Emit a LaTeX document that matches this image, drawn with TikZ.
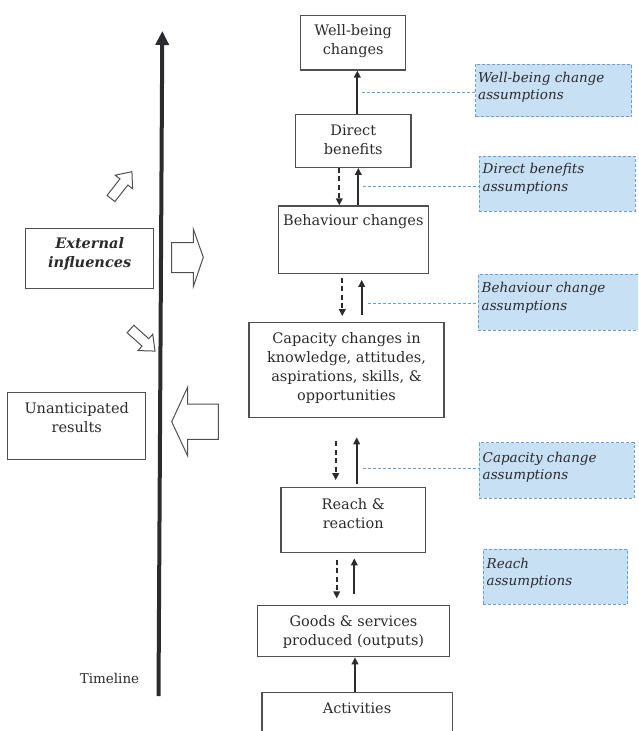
\documentclass[tikz,border=0pt]{standalone}
\usepackage{fontspec}
\setmainfont{DejaVu Serif}
\usetikzlibrary{arrows.meta,fit}
\definecolor{ink}{HTML}{2B2B2E}
\definecolor{boxline}{HTML}{505050}
\definecolor{asfill}{HTML}{C8E0F4}
\definecolor{asline}{HTML}{6A9FD4}
\tikzset{
  box/.style={draw=boxline, line width=1.1pt, inner sep=0pt, rectangle},
  abox/.style={draw=asline, fill=asfill, line width=0.9pt, dash pattern=on 3pt off 2pt, inner sep=0pt, rectangle},
  txt/.style={inner sep=0pt, align=center, text=ink, font=\fontsize{14.5}{19}\selectfont},
  atxt/.style={inner sep=0pt, align=left, anchor=west, text=ink, font=\fontsize{13.5}{17.7}\selectfont\itshape},
  uparr/.style={draw=ink, line width=1.8pt, -{Triangle[length=7pt,width=6.5pt]}},
  dnarr/.style={draw=ink, line width=1.8pt, dash pattern=on 5pt off 3.5pt, -{Triangle[length=7pt,width=6.5pt]}},
  link/.style={draw=asline, line width=0.8pt, dash pattern=on 3pt off 2pt},
  blockarrow/.style={draw=boxline, line width=1pt, fill=white, line join=miter},
  timeline/.style={draw=ink, line width=4pt, -{Triangle[length=14pt,width=13pt]}}
}
\begin{document}
\begin{tikzpicture}[x=1pt,y=-1pt]
\useasboundingbox (0,0) rectangle (638,731);
\clip (0,0) rectangle (638,731);

% timeline
\coordinate (tl0) at (158.5,696);
\coordinate (tl1) at (162.3,31);
\draw[timeline] (tl0) -- (tl1);
\node[txt, font=\fontsize{13.5}{17}\selectfont] (tltxt) at (109.5,678) {Timeline};

% main boxes
\node[box, fit={(300.7,15.7)(405.7,70)}] (wb) {};
\node[txt] (wbt) at (353.2,41.5) {Well-being\\changes};
\node[box, fit={(295.7,114.3)(411,167.3)}] (db) {};
\node[txt] (dbt) at (353.3,139.8) {Direct\\benefits};
\node[box, fit={(278.3,206)(428.3,273.3)}] (bc) {};
\node[txt] (bct) at (353.3,222) {Behaviour changes};
\node[box, fit={(249,322.3)(444,417.7)}] (cap) {};
\node[txt] (capt) at (346.5,368.2) {Capacity changes in\\knowledge, attitudes,\\aspirations, skills, \&\\opportunities};
\node[box, fit={(281,487.3)(425.3,552.3)}] (rr) {};
\node[txt] (rrt) at (353.2,513.2) {Reach \&\\reaction};
\node[box, fit={(257.7,605.7)(449.3,656.7)}] (gs) {};
\node[txt] (gst) at (353.5,632) {Goods \& services\\produced (outputs)};
\node[box, fit={(262,692.7)(452.7,740)}] (act) {};
\node[txt] (actt) at (357,708.5) {Activities};

% left boxes
\node[box, fit={(25.7,228.3)(153.7,288.3)}] (ext) {};
\node[txt, font=\fontsize{14.5}{19}\selectfont\bfseries\itshape] (extt) at (89.7,253.5) {External\\influences};
\node[box, fit={(7.7,392.7)(145.7,459.3)}] (un) {};
\node[txt] (unt) at (76.7,417.3) {Unanticipated\\results};

% block arrows
\draw[blockarrow] (171.7,242.7) -- (193.3,242.7) -- (193.3,229) -- (203.3,257.3) -- (193.3,286.7) -- (193.3,272.7) -- (171.7,272.7) -- cycle;
\draw[blockarrow] (218.3,404) -- (187.7,404) -- (187.7,387) -- (171.7,421.7) -- (187.7,456) -- (187.7,439.3) -- (218.3,439.3) -- cycle;
\begin{scope}[shift={(111,198.5)}, rotate=52]
\draw[blockarrow] (0,-5) -- (21,-5) -- (21,-11) -- (34,0) -- (21,11) -- (21,5) -- (0,5) -- cycle;
\end{scope}
\begin{scope}[shift={(130.5,329)}, rotate=-42]
\draw[blockarrow] (0,-5) -- (20,-5) -- (20,-11) -- (33,0) -- (20,11) -- (20,5) -- (0,5) -- cycle;
\end{scope}

% assumption boxes
\node[abox, fit={(475.7,64)(631.7,116.7)}] (wba) {};
\node[atxt] (wbat) at (478,87.2) {Well-being change\\assumptions};
\node[abox, fit={(479.3,156)(635,211)}] (dba) {};
\node[atxt] (dbat) at (482.5,178.8) {Direct benefits\\assumptions};
\node[abox, fit={(478.3,274)(645,330)}] (bca) {};
\node[atxt] (bcat) at (481.5,297.5) {Behaviour change\\assumptions};
\node[abox, fit={(479.3,442.7)(634,498.3)}] (caa) {};
\node[atxt] (caat) at (482.5,467.2) {Capacity change\\assumptions};
\node[abox, fit={(483.3,549.3)(627.7,604.3)}] (ra) {};
\node[atxt] (rat) at (486.5,573.3) {Reach\\assumptions};

% arrow x positions
\coordinate (x1) at (357.3,0);
\coordinate (x2) at (339.3,0);
\coordinate (x3) at (358.3,0);
\coordinate (x4) at (342.3,0);
\coordinate (x5) at (361.7,0);
\coordinate (x6) at (335.7,0);
\coordinate (x7) at (356.7,0);
\coordinate (x8) at (336.7,0);
\coordinate (x9) at (354.3,0);
\coordinate (x10) at (355,0);

\draw[uparr] (db.north -| x1) -- (wb.south -| x1);
\draw[dnarr] (db.south -| x2) -- (bc.north -| x2);
\draw[uparr] (bc.north -| x3) -- (db.south -| x3);
\draw[dnarr, shorten <=3.7pt, shorten >=5.6pt] (bc.south -| x4) -- (cap.north -| x4);
\draw[uparr, shorten <=6.6pt, shorten >=6pt] (cap.north -| x5) -- (bc.south -| x5);
\draw[dnarr, shorten <=23pt, shorten >=6.6pt] (cap.south -| x6) -- (rr.north -| x6);
\draw[uparr, shorten <=2.3pt, shorten >=19pt] (rr.north -| x7) -- (cap.south -| x7);
\draw[dnarr, shorten <=6.7pt, shorten >=6.7pt] (rr.south -| x8) -- (gs.north -| x8);
\draw[uparr, shorten <=10.7pt, shorten >=5.4pt] (gs.north -| x9) -- (rr.south -| x9);
\draw[uparr] (act.north -| x10) -- (gs.south -| x10);

% assumption links
\coordinate (l1) at (361.7,92.2);
\coordinate (l2) at (362.5,186.3);
\coordinate (l3) at (368.3,303.3);
\coordinate (l4) at (363.3,468.3);
\draw[link] (l1) -- (l1 -| wba.west);
\draw[link] (l2) -- (l2 -| dba.west);
\draw[link] (l3) -- (l3 -| bca.west);
\draw[link] (l4) -- (l4 -| caa.west);
\end{tikzpicture}
\end{document}
